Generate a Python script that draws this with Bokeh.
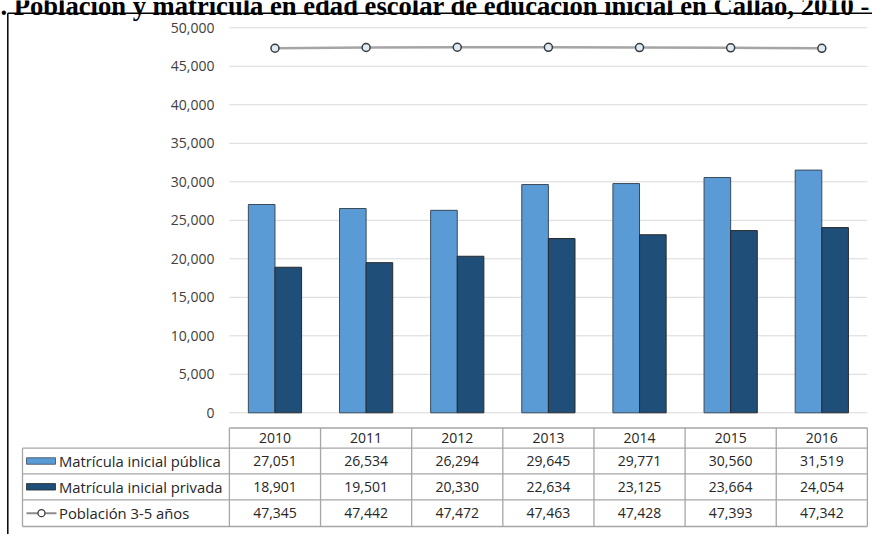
import numpy as np
from bokeh.plotting import figure
from bokeh.models import Range1d
from bokeh.core.properties import value
from bokeh.embed import file_html
from bokeh.resources import INLINE

# ---------------- data ----------------
years = [2010, 2011, 2012, 2013, 2014, 2015, 2016]
publica = [27051, 26534, 26294, 29645, 29771, 30560, 31519]
privada = [18901, 19501, 20330, 22634, 23125, 23664, 24054]
poblacion = [47345, 47442, 47472, 47463, 47428, 47393, 47342]
y_ticks = [0, 5000, 10000, 15000, 20000, 25000, 30000, 35000, 40000, 45000, 50000]
series_names = ["Matrícula inicial pública", "Matrícula inicial privada", "Población 3-5 años"]
title_text = "Gráfico 1. Población y matrícula en edad escolar de educación inicial en Callao, 2010 - 2016"

# ---------------- layout (pixels) ----------------
W, H = 872, 534
col_left, col_w = 228.9, 91.14          # first category column left edge, width
y0_px, y50_px = 412.3, 27.3             # pixel rows of 0 and 50,000
ppu = (y0_px - y50_px) / 50000.0

first = years[0]
x_start = first - (col_left + col_w / 2) / col_w
x_end = x_start + W / col_w
y_end = y0_px / ppu
y_start = -(H - y0_px) / ppu

p = figure(width=W, height=H, output_backend="svg", toolbar_location=None,
           x_axis_location=None, y_axis_location=None, min_border=0,
           x_range=Range1d(x_start, x_end), y_range=Range1d(y_start, y_end))
p.extra_x_ranges = {"px": Range1d(0, W)}
p.extra_y_ranges = {"px": Range1d(H, 0)}
p.grid.visible = False
p.outline_line_color = None
p.background_fill_color = "white"
p.border_fill_color = "white"

FONT = value("Open Sans")
TXT = "#262626"
GRID = "#D9D9D9"
TBL = "#A6A6A6"
C_PUB = "#5B9BD5"
C_PRI = "#1F4E79"
C_LINE = "#A5A5A5"

yrs = np.array(years, dtype=float)
cat_lo = yrs[0] - 0.5
cat_hi = yrs[-1] + 0.5

# gridlines
p.segment(x0=[cat_lo] * len(y_ticks), x1=[cat_hi] * len(y_ticks), y0=y_ticks, y1=y_ticks,
          line_color=GRID, line_width=1)

# y tick labels
p.text(x=[214] * len(y_ticks), y=y_ticks, text=[f"{t:,}" for t in y_ticks],
       x_range_name="px", text_align="right", text_baseline="middle",
       text_font=FONT, text_font_size="14px", text_color="#404040")

# bars
bw = 0.292
p.vbar(x=yrs - bw / 2, top=publica, bottom=0, width=bw, fill_color=C_PUB,
       line_color="#3A4A5A", line_width=1)
p.vbar(x=yrs + bw / 2, top=privada, bottom=0, width=bw, fill_color=C_PRI,
       line_color="#2A2A2A", line_width=1)

# line
p.line(yrs, poblacion, line_color=C_LINE, line_width=2.5)
p.scatter(yrs, poblacion, marker="circle", size=8, fill_color="#DDEBF7",
          line_color="#3A3A3A", line_width=1.5)

# ---------------- data table ----------------
row_edges = [427.5, 447.7, 473.3, 499.3, 526.0]
row_mid = [(row_edges[i] + row_edges[i + 1]) / 2 for i in range(4)]
leg_left = 22.0

p.segment(x0=[cat_lo], x1=[cat_hi], y0=[row_edges[0]], y1=[row_edges[0]],
          y_range_name="px", line_color=TBL, line_width=1.3)
p.segment(x0=[leg_left] * 4, x1=[col_left + col_w * len(years)] * 4,
          y0=row_edges[1:], y1=row_edges[1:], x_range_name="px", y_range_name="px",
          line_color=TBL, line_width=1.3)
vx = list(yrs - 0.5) + [cat_hi]
p.segment(x0=vx, x1=vx, y0=[row_edges[0]] * len(vx), y1=[row_edges[-1]] * len(vx),
          y_range_name="px", line_color=TBL, line_width=1.3)
p.segment(x0=[leg_left], x1=[leg_left], y0=[row_edges[1]], y1=[row_edges[-1]],
          x_range_name="px", y_range_name="px", line_color=TBL, line_width=1.3)

p.text(x=yrs, y=[row_mid[0]] * len(years), text=[str(y) for y in years],
       y_range_name="px", text_align="center", text_baseline="middle",
       text_font=FONT, text_font_size="14px", text_color=TXT)
for r, vals in enumerate([publica, privada, poblacion]):
    p.text(x=yrs, y=[row_mid[r + 1]] * len(years), text=[f"{v:,}" for v in vals],
           y_range_name="px", text_align="center", text_baseline="middle",
           text_font=FONT, text_font_size="14px", text_color=TXT)

p.rect(x=[40.5, 40.5], y=[row_mid[1], row_mid[2]], width=29, height=6.5,
       x_range_name="px", y_range_name="px", fill_color=[C_PUB, C_PRI],
       line_color=["#3A4A5A", "#2A2A2A"], line_width=0.8)
p.segment(x0=[26], x1=[56], y0=[row_mid[3]], y1=[row_mid[3]], x_range_name="px",
          y_range_name="px", line_color="#8C8C8C", line_width=2)
p.scatter(x=[41], y=[row_mid[3]], x_range_name="px", y_range_name="px", marker="circle",
          size=7, fill_color="white", line_color="#3A3A3A", line_width=1.3)
p.text(x=[58.5] * 3, y=row_mid[1:], text=series_names, x_range_name="px", y_range_name="px",
       text_align="left", text_baseline="middle", text_font=FONT,
       text_font_size="14.8px", text_color=TXT)

# ---------------- title and frame border ----------------
p.text(x=[411], y=[5], text=[title_text], x_range_name="px", y_range_name="px",
       text_align="center", text_baseline="alphabetic",
       text_font=value("Liberation Serif"), text_font_style="bold",
       text_font_size="26.6px", text_color="black")
p.segment(x0=[7.3], x1=[W], y0=[12.7], y1=[12.7], x_range_name="px", y_range_name="px",
          line_color="black", line_width=1.5)
p.segment(x0=[7.3], x1=[7.3], y0=[12.7], y1=[H], x_range_name="px", y_range_name="px",
          line_color="black", line_width=1.5)

open("out.html", "w").write(file_html(p, INLINE))
